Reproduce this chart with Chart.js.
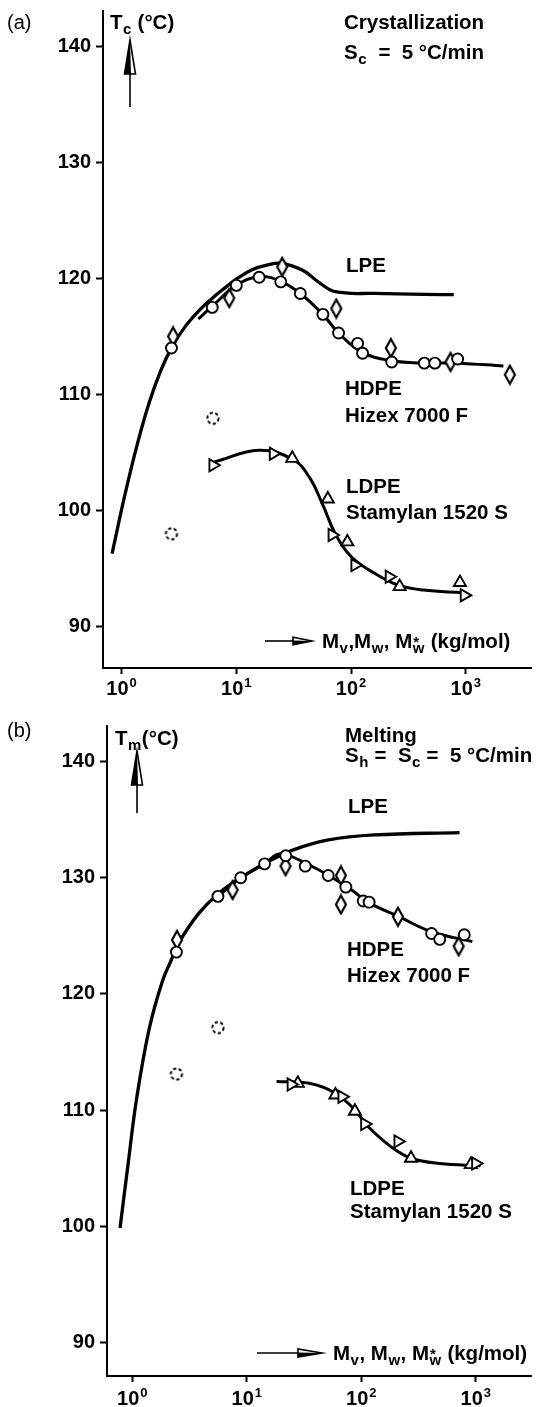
<!DOCTYPE html>
<html>
<head>
<meta charset="utf-8">
<script src="https://cdn.jsdelivr.net/npm/chart.js@4.4.1/dist/chart.umd.min.js"></script>
<style>
html, body { margin: 0; padding: 0; background: #fff; }
canvas { display: block; }
</style>
</head>
<body>
<canvas id="crystChart" width="540" height="705"></canvas>
<canvas id="meltChart" width="540" height="702"></canvas>
<script>
// axis ticks: molar mass (kg/mol, log) and temperature (°C)
const massTicks = [1, 10, 100, 1000];
const tempTicks = [90, 100, 110, 120, 130, 140];

// (a) crystallization temperature Tc vs molar mass
const crystLPE = [[0.826, 96.3], [1.067, 101.33], [1.378, 105.81], [1.744, 109.33], [2.207, 112.12], [2.74, 114.06],
  [3.54, 115.78], [4.66, 117.16], [6.01, 118.19], [7.91, 119.16], [10.2, 120.0], [13.7, 120.75], [18.4, 121.15],
  [24.7, 121.3], [37.9, 120.7], [52.5, 119.65], [72.9, 118.85], [160, 118.7], [785, 118.6]];
const crystHDPE = [[4.66, 116.5], [6.17, 117.6], [10, 119.4], [15.8, 120.15], [24.4, 119.75], [36.1, 118.7],
  [56.8, 116.9], [77.8, 115.3], [126, 113.6], [226, 112.9], [435, 112.7], [849, 112.7], [2127, 112.45]];
const crystHDPEcircles = [[2.72, 114.0], [6.17, 117.5], [10.0, 119.4], [15.8, 120.1], [24.4, 119.7], [36.1, 118.7],
  [56.8, 116.9], [77.8, 115.3], [114, 114.4], [126, 113.55], [226, 112.8], [435, 112.7], [537, 112.7], [849, 113.05]];
const crystHDPEdiamonds = [[2.81, 115.0], [8.68, 118.3], [25.1, 121.0], [74.3, 117.4], [222, 114.0], [736, 112.8], [2421, 111.7]];
const crystLDPE = [[6.46, 104.2], [15.7, 105.2], [31.1, 104.4], [43.1, 102.9], [56.1, 100.6], [72.9, 98.0],
  [101, 96.0], [160, 94.6], [253, 93.6], [427, 93.15], [937, 92.93]];
const crystLDPEright = [[6.25, 103.9], [21.0, 104.9], [68.3, 97.9], [108, 95.3], [215, 94.3], [969, 92.7]];
const crystLDPEup = [[30.7, 104.5], [62.7, 101.0], [92.8, 97.3], [265, 93.45], [889, 93.8]];
const crystDashed = [[2.72, 98.0], [6.25, 107.95]];

// (b) melting temperature Tm vs molar mass
const meltLPE = [[0.782, 99.84], [0.924, 105.53], [1.093, 111.04], [1.411, 117.07], [1.823, 121.03], [2.154, 122.75],
  [2.547, 124.39], [3.776, 126.89], [5.6, 128.61], [8.8, 129.99], [14.1, 131.19], [25.5, 132.4], [51.7, 133.26],
  [130, 133.69], [722, 133.89]];
const meltHDPE = [[5.6, 128.4], [8.85, 130.0], [14.3, 131.2], [18.2, 132.0], [22.2, 132.0], [35.1, 131.1],
  [52, 130.2], [82.4, 128.95], [114, 127.9], [213, 126.65], [411, 125.35], [933, 124.5]];
const meltHDPEcircles = [[2.43, 123.6], [5.6, 128.4], [8.85, 130.0], [14.3, 131.2], [21.9, 131.9], [32.4, 131.0],
  [51.4, 130.2], [73.3, 129.2], [104, 128.0], [117, 127.9], [411, 125.2], [484, 124.7], [793, 125.1]];
const meltHDPEdiamonds = [[2.46, 124.65], [7.52, 128.95], [21.8, 131.0], [66.4, 130.2], [66.4, 127.7], [209, 126.65], [708, 124.1]];
const meltLDPE = [[18.2, 112.45], [35.1, 112.3], [59.4, 111.45], [88, 110.0], [114, 108.6], [181, 106.85],
  [272, 105.85], [484, 105.4], [1099, 105.2]];
const meltLDPEright = [[24.4, 112.2], [67.8, 111.15], [107, 108.8], [209, 107.3], [997, 105.4]];
const meltLDPEup = [[27.9, 112.3], [59.4, 111.3], [88, 109.9], [272, 105.85], [904, 105.3]];
const meltDashed = [[2.43, 113.1], [5.6, 117.1]];

const FONT = "'Liberation Sans', Arial, Helvetica, sans-serif";
const TXT = 20.5;
Chart.defaults.font.family = FONT;
Chart.defaults.color = '#000';

const xy = pts => pts.map(([m, t]) => ({ x: m, y: t }));

// tall open diamond marker
function diamondMark() {
  const c = document.createElement('canvas');
  c.width = 14; c.height = 22;
  const g = c.getContext('2d');
  g.beginPath();
  g.moveTo(7, 2); g.lineTo(12, 11); g.lineTo(7, 20); g.lineTo(2, 11); g.closePath();
  g.fillStyle = '#fff'; g.fill();
  g.lineWidth = 2.2; g.strokeStyle = '#000'; g.stroke();
  return c;
}
// dotted open ring
function dashedRing() {
  const c = document.createElement('canvas');
  c.width = 16; c.height = 16;
  const g = c.getContext('2d');
  g.setLineDash([3.2, 2.4]);
  g.lineWidth = 2; g.strokeStyle = '#000';
  g.beginPath(); g.arc(8, 8, 5.6, 0, Math.PI * 2); g.stroke();
  return c;
}
const DIAMOND = diamondMark();
const RING = dashedRing();

function curve(points, width) {
  return { data: xy(points), showLine: true, borderColor: '#000', borderWidth: width, pointRadius: 0,
    tension: 0.4, fill: false, order: 2 };
}
function marks(points, style, radius, rotation) {
  return { data: xy(points), showLine: false, pointStyle: style, pointRadius: radius, pointRotation: rotation || 0,
    pointBorderWidth: 1.9, pointBorderColor: '#000', pointBackgroundColor: '#fff', order: 1 };
}

// text with sub/superscripts, left aligned on a baseline
function rich(ctx, x, y, parts, size, weight) {
  const w = weight || 'bold';
  const big = w + ' ' + size + 'px ' + FONT;
  const small = w + ' ' + Math.round(size * 0.75) + 'px ' + FONT;
  ctx.textAlign = 'left';
  ctx.textBaseline = 'alphabetic';
  parts.forEach(p => {
    if (typeof p === 'string') {
      ctx.font = big;
      ctx.fillText(p, x, y);
      x += ctx.measureText(p).width;
    } else {
      ctx.font = small;
      let adv = 0;
      if (p.sub) { ctx.fillText(p.sub, x + 0.5, y + size * 0.26); adv = ctx.measureText(p.sub).width; }
      if (p.sup) { ctx.fillText(p.sup, x + 1, y - size * 0.05); adv = Math.max(adv, ctx.measureText(p.sup).width); }
      x += adv + 1;
    }
  });
}

function upArrow(ctx, a) {
  ctx.lineWidth = 1.6;
  ctx.beginPath(); ctx.moveTo(a.x, a.tail); ctx.lineTo(a.x, a.base); ctx.stroke();
  ctx.beginPath(); ctx.moveTo(a.x, a.tip); ctx.lineTo(a.x + a.hw, a.base); ctx.lineTo(a.x - a.hw, a.base); ctx.closePath(); ctx.stroke();
  ctx.beginPath(); ctx.moveTo(a.x, a.tip); ctx.lineTo(a.x + 1, a.base); ctx.lineTo(a.x - a.hw, a.base); ctx.closePath(); ctx.fill();
}
function rightArrow(ctx, a) {
  const b = a.x1 - a.len;
  ctx.lineWidth = 1.6;
  ctx.beginPath(); ctx.moveTo(a.x0, a.y); ctx.lineTo(b, a.y); ctx.stroke();
  ctx.beginPath(); ctx.moveTo(a.x1, a.y); ctx.lineTo(b, a.y - a.hh); ctx.lineTo(b, a.y + a.hh); ctx.closePath(); ctx.stroke();
  ctx.beginPath(); ctx.moveTo(a.x1, a.y); ctx.lineTo(b, a.y - 0.5); ctx.lineTo(b, a.y + a.hh); ctx.closePath(); ctx.fill();
}

function decor(d) {
  return {
    id: 'decor',
    afterDraw(chart) {
      const ctx = chart.ctx;
      const xs = chart.scales.x;
      ctx.save();
      ctx.fillStyle = '#000';
      ctx.strokeStyle = '#000';
      // decade labels 10^n under the mass axis
      massTicks.forEach(t => {
        const px = xs.getPixelForValue(t);
        const exp = String(Math.round(Math.log10(t)));
        ctx.font = 'bold 20px ' + FONT;
        const w1 = ctx.measureText('10').width;
        ctx.font = 'bold 13px ' + FONT;
        const w2 = ctx.measureText(exp).width;
        const x0 = px - (w1 + w2 + 1) / 2;
        ctx.textAlign = 'left';
        ctx.textBaseline = 'alphabetic';
        ctx.font = 'bold 20px ' + FONT;
        ctx.fillText('10', x0, d.decadeY);
        ctx.font = 'bold 13px ' + FONT;
        ctx.fillText(exp, x0 + w1 + 1, d.decadeY - 8);
      });
      rich(ctx, d.tag[0], d.tag[1], [d.tag[2]], 20, 'normal');
      rich(ctx, d.yTitle[0], d.yTitle[1], d.yTitle[2], TXT);
      upArrow(ctx, d.yArrow);
      rightArrow(ctx, d.xArrow);
      rich(ctx, d.xTitle[0], d.xTitle[1], d.xTitle[2], TXT);
      d.labels.forEach(l => rich(ctx, l[0], l[1], l[2], TXT));
      ctx.restore();
    }
  };
}

function panel(id, p) {
  return new Chart(document.getElementById(id), {
    type: 'scatter',
    data: { datasets: p.datasets },
    options: {
      responsive: false,
      animation: false,
      events: [],
      layout: { padding: { top: p.top, left: 0, right: 0, bottom: 0 } },
      plugins: { legend: { display: false }, tooltip: { enabled: false } },
      scales: {
        x: {
          type: 'logarithmic', min: p.xMin, max: p.xMax, bounds: 'data',
          afterBuildTicks: s => { s.ticks = massTicks.map(v => ({ value: v })); },
          afterFit: s => { s.height = p.xHeight; s.paddingLeft = 0; s.paddingRight = 0; },
          ticks: { display: false },
          grid: { drawOnChartArea: false, drawTicks: true, tickLength: 6, tickColor: '#000', tickWidth: 2 },
          border: { display: true, color: '#000', width: 2 }
        },
        y: {
          type: 'linear', min: p.yMin, max: p.yMax, bounds: 'data',
          afterBuildTicks: s => { s.ticks = tempTicks.map(v => ({ value: v })); },
          afterFit: s => { s.width = p.yWidth; s.paddingTop = 0; s.paddingBottom = 0; },
          ticks: { color: '#000', font: { size: 20, weight: 'bold' }, padding: 5 },
          grid: { drawOnChartArea: false, drawTicks: true, tickLength: 7, tickColor: '#000', tickWidth: 2 },
          border: { display: true, color: '#000', width: 2 }
        }
      }
    },
    plugins: [decor(p.decor)]
  });
}

const crystChart = panel('crystChart', {
  top: 11, xHeight: 37, yWidth: 103,
  xMin: 0.6885, xMax: 3707, yMin: 86.44, yMax: 143.03,
  datasets: [
    curve(crystLPE, 3.3),
    curve(crystHDPE, 3),
    curve(crystLDPE, 3),
    marks(crystHDPEcircles, 'circle', 5.5),
    marks(crystHDPEdiamonds, DIAMOND, 6),
    marks(crystLDPEright, 'triangle', 7, 90),
    marks(crystLDPEup, 'triangle', 7),
    marks(crystDashed, RING, 6)
  ],
  decor: {
    decadeY: 695,
    tag: [7, 29, '(a)'],
    yTitle: [110, 29, ['T', { sub: 'c' }, ' (°C)']],
    yArrow: { x: 130, tip: 40, base: 74, tail: 107, hw: 5.5 },
    xArrow: { x0: 265, x1: 312, y: 641, len: 19, hh: 3.8 },
    xTitle: [322, 648, ['M', { sub: 'v' }, ',M', { sub: 'w' }, ', M', { sub: 'w', sup: '*' }, ' (kg/mol)']],
    labels: [
      [344, 29, ['Crystallization']],
      [344, 59, ['S', { sub: 'c' }, '  =  5 °C/min']],
      [346, 272, ['LPE']],
      [345, 395, ['HDPE']],
      [345, 422, ['Hizex 7000 F']],
      [346, 493, ['LDPE']],
      [346, 519, ['Stamylan 1520 S']]
    ]
  }
});

const meltChart = panel('meltChart', {
  top: 21, xHeight: 31, yWidth: 107,
  xMin: 0.6016, xMax: 3040, yMin: 87.10, yMax: 143.07,
  datasets: [
    curve(meltLPE, 3.3),
    curve(meltHDPE, 3),
    curve(meltLDPE, 3),
    marks(meltHDPEcircles, 'circle', 5.5),
    marks(meltHDPEdiamonds, DIAMOND, 6),
    marks(meltLDPEright, 'triangle', 7, 90),
    marks(meltLDPEup, 'triangle', 7),
    marks(meltDashed, RING, 6)
  ],
  decor: {
    decadeY: 700,
    tag: [7, 32, '(b)'],
    yTitle: [115, 40, ['T', { sub: 'm' }, '(°C)']],
    yArrow: { x: 137, tip: 46, base: 80, tail: 108, hw: 5.5 },
    xArrow: { x0: 257, x1: 322, y: 648, len: 24, hh: 4 },
    xTitle: [333, 655, ['M', { sub: 'v' }, ', M', { sub: 'w' }, ', M', { sub: 'w', sup: '*' }, ' (kg/mol)']],
    labels: [
      [345, 37, ['Melting']],
      [345, 57, ['S', { sub: 'h' }, ' =  S', { sub: 'c' }, ' =  5 °C/min']],
      [348, 108, ['LPE']],
      [347, 251, ['HDPE']],
      [347, 277, ['Hizex 7000 F']],
      [350, 490, ['LDPE']],
      [350, 513, ['Stamylan 1520 S']]
    ]
  }
});
</script>
</body>
</html>
